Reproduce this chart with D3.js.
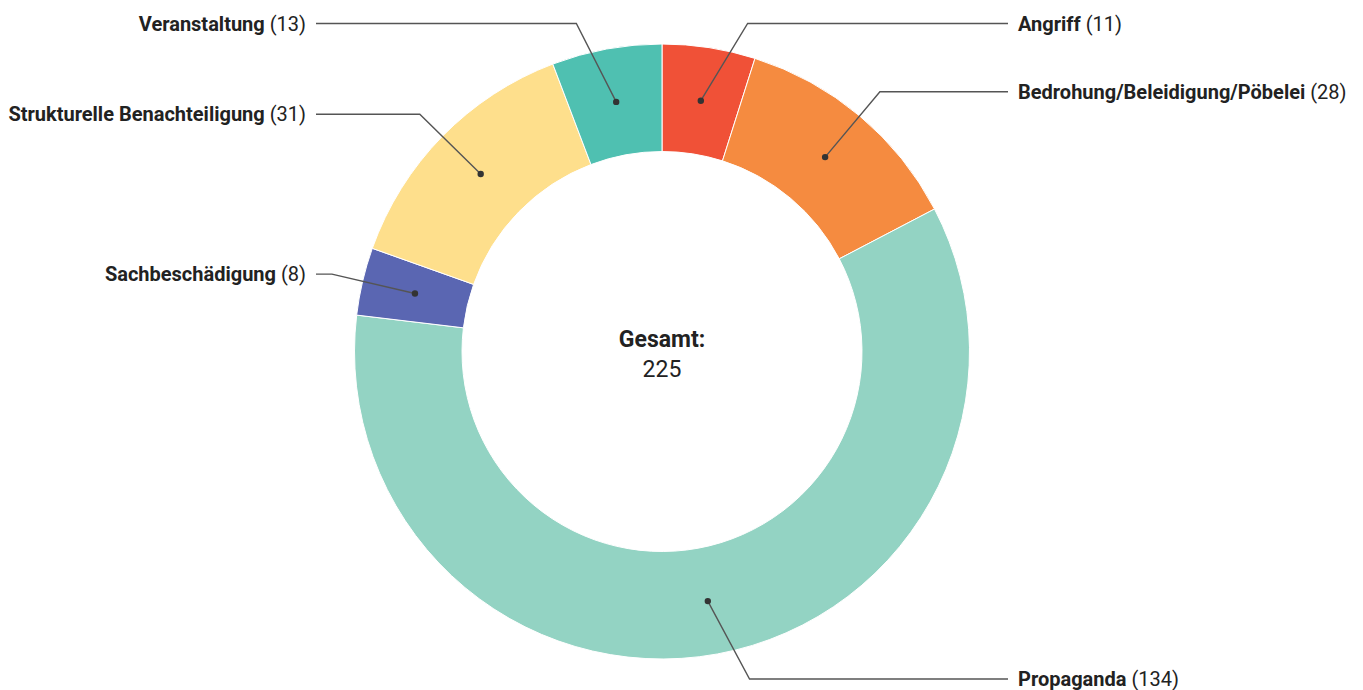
<!DOCTYPE html>
<html>
<head>
<meta charset="utf-8">
<script src="https://cdn.jsdelivr.net/npm/d3@7"></script>
<style>
  html, body { margin: 0; padding: 0; background: #fff; }
  svg { display: block; }
  text { font-family: Roboto, "Noto Sans", sans-serif; }
</style>
</head>
<body>
<svg id="chart" width="1363" height="690"></svg>
<script>
const categories = ["Angriff", "Bedrohung/Beleidigung/Pöbelei", "Propaganda", "Sachbeschädigung", "Strukturelle Benachteiligung", "Veranstaltung"];
const values = [11, 28, 134, 8, 31, 13];
const colors = ["#f05137", "#f58b40", "#93d3c3", "#5a66b2", "#fedf8c", "#4fc0b1"];
const totalLabel = "Gesamt:";

const W = 1363, H = 690;
const cx = 662, cy = 351.5;
const outerR = 307.5, innerR = 200;
const elbowR = 339;
const topY = 23.5, bottomY = 679;
const rightLineEnd = 1008, leftLineEnd = 316;

const svg = d3.select("#chart");
const g = svg.append("g").attr("transform", `translate(${cx},${cy})`);

const data = categories.map((c, i) => ({ name: c, value: values[i], color: colors[i] }));
const pie = d3.pie().sort(null).value(d => d.value);
const arcs = pie(data);
const arc = d3.arc().innerRadius(innerR).outerRadius(outerR);

g.selectAll("path.slice")
  .data(arcs)
  .enter().append("path")
  .attr("class", "slice")
  .attr("d", arc)
  .attr("fill", d => d.data.color)
  .attr("stroke", "#fff")
  .attr("stroke-width", 1);

// leader lines + labels
arcs.forEach(d => {
  const a = (d.startAngle + d.endAngle) / 2;
  const [dx, dy] = arc.centroid(d);
  let ex = Math.sin(a) * elbowR, ey = -Math.cos(a) * elbowR;
  const right = Math.sin(a) >= 0;
  const minY = topY - cy, maxY = bottomY - cy;
  if (ey < minY || ey > maxY) {
    ey = ey < minY ? minY : maxY;
    ex = (right ? 1 : -1) * Math.sqrt(elbowR * elbowR - ey * ey);
  }
  const lx = (right ? rightLineEnd : leftLineEnd) - cx;
  g.append("path")
    .attr("d", `M${dx},${dy}L${ex},${ey}L${lx},${ey}`)
    .attr("fill", "none")
    .attr("stroke", "#555")
    .attr("stroke-width", 1.4);
  g.append("circle")
    .attr("cx", dx).attr("cy", dy).attr("r", 3.2)
    .attr("fill", "#333");
  const t = g.append("text")
    .attr("x", right ? lx + 10 : lx - 10)
    .attr("y", ey)
    .attr("dy", "0.35em")
    .attr("text-anchor", right ? "start" : "end")
    .attr("font-size", 20)
    .attr("fill", "#222");
  t.append("tspan").attr("font-weight", 700).text(d.data.name);
  t.append("tspan").attr("font-weight", 400).text(" (" + d.data.value + ")");
});

const total = d3.sum(values);
g.append("text")
  .attr("x", 0).attr("y", -13)
  .attr("text-anchor", "middle")
  .attr("dy", "0.35em")
  .attr("font-size", 23)
  .attr("font-weight", 700)
  .attr("fill", "#222")
  .text(totalLabel);
g.append("text")
  .attr("x", 0).attr("y", 17)
  .attr("text-anchor", "middle")
  .attr("dy", "0.35em")
  .attr("font-size", 23)
  .attr("font-weight", 400)
  .attr("fill", "#222")
  .text(total);
</script>
</body>
</html>
